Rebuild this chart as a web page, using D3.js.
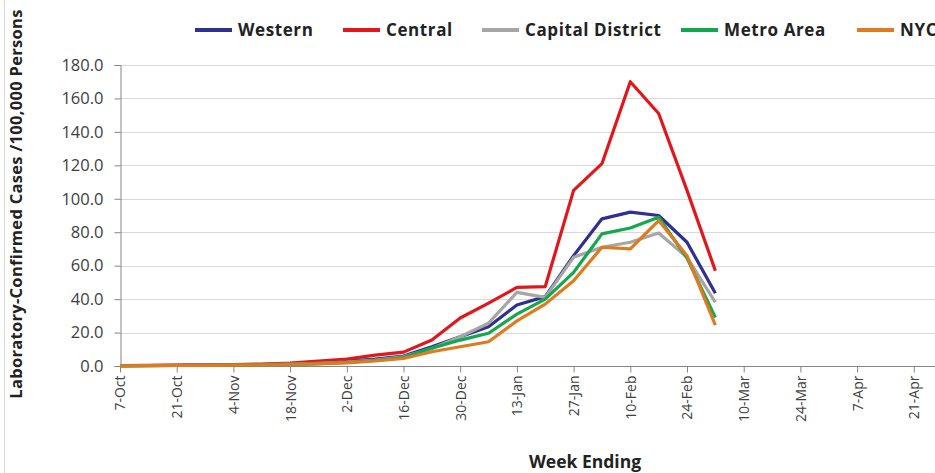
<!DOCTYPE html>
<html>
<head>
<meta charset="utf-8">
<script src="https://cdn.jsdelivr.net/npm/d3@7"></script>
<style>
  html, body { margin: 0; padding: 0; overflow: hidden; background: #fff; }
  svg { display: block; }
</style>
</head>
<body>
<svg id="chart" width="935" height="473"></svg>
<script>
const weeks = ["7-Oct","14-Oct","21-Oct","28-Oct","4-Nov","11-Nov","18-Nov","25-Nov","2-Dec","9-Dec","16-Dec","23-Dec","30-Dec","6-Jan","13-Jan","20-Jan","27-Jan","3-Feb","10-Feb","17-Feb","24-Feb","3-Mar","10-Mar","17-Mar","24-Mar","31-Mar","7-Apr","14-Apr","21-Apr","28-Apr"];
const tickLabels = ["7-Oct","21-Oct","4-Nov","18-Nov","2-Dec","16-Dec","30-Dec","13-Jan","27-Jan","10-Feb","24-Feb","10-Mar","24-Mar","7-Apr","21-Apr"];
const yTicks = [0,20,40,60,80,100,120,140,160,180];

const seriesNames = ["Western","Central","Capital District","Metro Area","NYC"];
const seriesColors = ["#2e3192","#e3161c","#a6a6a6","#12a84f","#e07a1f"];

const western = [0.2,0.3,0.4,0.5,0.7,0.9,1.3,2.0,3.0,4.2,6.0,11.5,17.5,23.5,36.5,41.5,66,88,92,90,74,43.5];
const central = [0.3,0.4,0.5,0.7,0.9,1.2,1.8,3.0,4.2,6.5,8.3,15.5,28.7,37.6,47,47.5,105,121,170,151,105,57];
const capital = [0.1,0.2,0.3,0.4,0.6,0.8,1.1,1.6,2.4,3.6,5.5,10.5,17.5,25.6,44,41,65,71,74,79.5,65,38];
const metro   = [0.1,0.2,0.3,0.4,0.5,0.7,1.0,1.4,2.1,3.3,5.0,10.7,15.5,19.6,31,40,56,79,82.5,89,64.5,29];
const nyc     = [0.1,0.2,0.3,0.4,0.5,0.6,0.9,1.3,1.9,3.0,4.5,8.5,11.5,14.5,27,37,51,71,70,87,66,24.5];
const seriesValues = [western, central, capital, metro, nyc];

const svg = d3.select("#chart");
const font = "'Open Sans', 'Liberation Sans', sans-serif";
const textColor = "#404040";

const plotLeft = 120, plotTop = 65, plotBottom = 366;
const x = d3.scalePoint().domain(weeks).range([plotLeft, plotLeft + 28.35 * (weeks.length - 1)]);
const y = d3.scaleLinear().domain([0, 180]).range([plotBottom, plotTop]);

// left border
svg.append("line").attr("x1", 4.5).attr("x2", 4.5).attr("y1", 0).attr("y2", 473)
  .attr("stroke", "#d9d9d9").attr("stroke-width", 1);

// gridlines
svg.append("g").selectAll("line").data(yTicks.filter(d => d > 0)).join("line")
  .attr("x1", plotLeft).attr("x2", 960)
  .attr("y1", d => Math.round(y(d)) + 0.5).attr("y2", d => Math.round(y(d)) + 0.5)
  .attr("stroke", "#d9d9d9").attr("stroke-width", 1);

// y axis
const yAxis = svg.append("g").attr("transform", `translate(${plotLeft + 0.5},0)`)
  .call(d3.axisLeft(y).tickValues(yTicks).tickFormat(d3.format(".1f")).tickSize(6).tickPadding(11));
yAxis.select(".domain").attr("stroke", "#868686");
yAxis.selectAll(".tick line").attr("stroke", "#868686");
yAxis.selectAll("text").attr("fill", textColor).style("font-family", font).style("font-size", "16.5px");

// x axis
const xAxis = svg.append("g").attr("transform", `translate(0,${plotBottom + 0.5})`)
  .call(d3.axisBottom(x).tickValues(tickLabels).tickSize(6).tickSizeOuter(0));
xAxis.select(".domain").attr("stroke", "#868686").attr("d", `M${plotLeft},0H960`);
xAxis.selectAll(".tick line").attr("stroke", "#868686");
xAxis.selectAll("text")
  .attr("fill", textColor).style("font-family", font).style("font-size", "14px")
  .attr("transform", "rotate(-90)").attr("text-anchor", "end")
  .attr("x", -9).attr("y", 0).attr("dy", "0.35em");

// lines
const line = d3.line()
  .x((d, i) => x(weeks[i]))
  .y(d => y(d));
svg.append("g").selectAll("path").data(seriesValues).join("path")
  .attr("d", d => line(d))
  .attr("fill", "none")
  .attr("stroke", (d, i) => seriesColors[i])
  .attr("stroke-width", 3.2)
  .attr("stroke-linejoin", "round");

// legend
const legendX = [195, 343, 482, 681, 857];
const lg = svg.append("g");
seriesNames.forEach((name, i) => {
  lg.append("line").attr("x1", legendX[i]).attr("x2", legendX[i] + 37)
    .attr("y1", 30).attr("y2", 30).attr("stroke", seriesColors[i]).attr("stroke-width", 4);
  lg.append("text").attr("x", legendX[i] + 43).attr("y", 30).attr("dy", "0.35em")
    .attr("fill", "#222").style("font-family", font).style("font-weight", "bold").style("font-size", "17px")
    .style("letter-spacing", "0.6px")
    .text(name);
});

// axis titles
svg.append("text").attr("transform", "translate(16,204) rotate(-90)")
  .attr("text-anchor", "middle").attr("dy", "0.35em")
  .attr("fill", "#222").style("font-family", font).style("font-weight", "bold").style("font-size", "16.5px")
  .style("letter-spacing", "0.3px")
  .text("Laboratory-Confirmed Cases /100,000 Persons");
svg.append("text").attr("x", 585).attr("y", 462).attr("text-anchor", "middle").attr("dy", "0.35em")
  .attr("fill", "#222").style("font-family", font).style("font-weight", "bold").style("font-size", "17.5px")
  .text("Week Ending");
</script>
</body>
</html>
